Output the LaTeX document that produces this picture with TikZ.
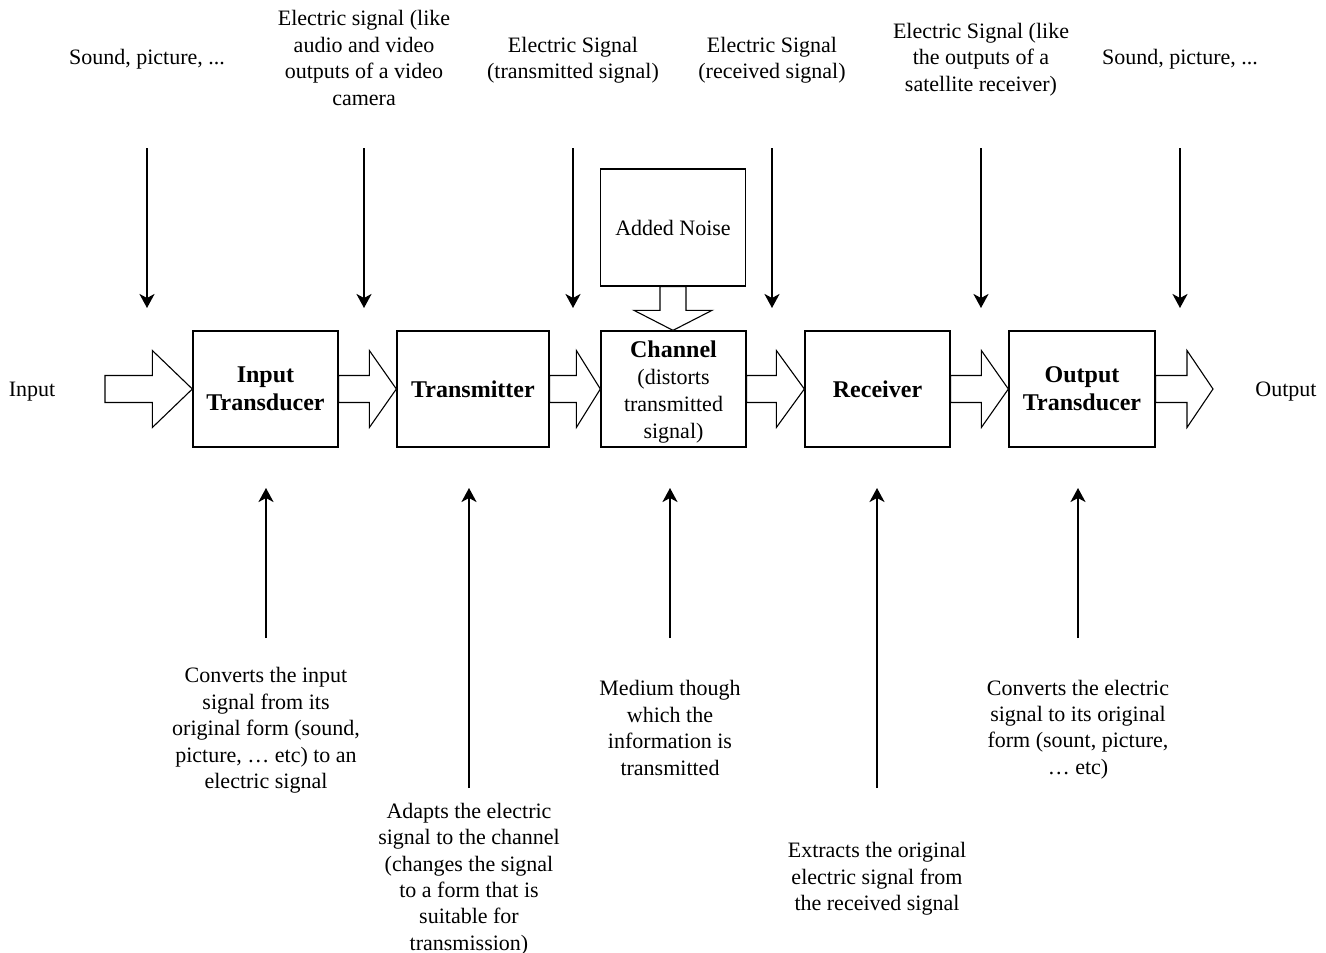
\documentclass[tikz,border=0pt]{standalone}
\usepackage{fontspec}
\setmainfont{Liberation Serif}
\usetikzlibrary{arrows.meta,calc}
\tikzset{
  box/.style={draw, line width=1.3pt, minimum width=145pt, minimum height=116pt, inner sep=0pt, align=center, font=\fontsize{24}{28}\selectfont\bfseries},
  lbl/.style={align=center, inner sep=0pt, font=\fontsize{22}{26.4}\selectfont},
  thin/.style={line width=2.2pt, -{Stealth[length=14pt,width=15pt,inset=4pt]}},
  blk/.style={draw, line width=1.1pt, fill=white, line join=miter}
}
\newcommand\blkarrow[3]{%
  \path[blk] let \p1=(#1), \p2=(#2) in
    (\x1,\y1+13.5pt) -- (\x2-#3,\y1+13.5pt) -- (\x2-#3,\y1+38.5pt) -- (\x2,\y1)
    -- (\x2-#3,\y1-38.5pt) -- (\x2-#3,\y1-13.5pt) -- (\x1,\y1-13.5pt) -- cycle;}
\begin{document}
\begin{tikzpicture}[x=1pt,y=-1pt]
\useasboundingbox (0,0) rectangle (1326,953);
% main boxes
\node[box] (it) at (265.5,389) {Input\\Transducer};
\node[box, minimum width=152pt] (tx) at (473,389) {Transmitter};
\node[box, font=\fontsize{22}{27}\selectfont] (ch) at (673.5,389) {};
\node[align=center, inner sep=0pt, font=\fontsize{22}{27}\selectfont] (chtext) at (673.5,392) {{\fontsize{24}{27}\selectfont\bfseries Channel}\\(distorts\\transmitted\\signal)};
\node[box] (rx) at (877.5,389) {Receiver};
\node[box, minimum width=146pt] (ot) at (1082,389) {Output\\Transducer};
\node[box, minimum height=117pt, font=\fontsize{22}{26.4}\selectfont] (noise) at (673,227.5) {Added Noise};
% side labels
\node[lbl] (inp) at (32,392) {Input};
\node[lbl] (outp) at (1286,392) {Output};
\coordinate (inA) at (105,389);
\coordinate (outA) at (1213,389);
% block arrows
\blkarrow{inA}{it.west}{40pt}
\blkarrow{it.east}{tx.west}{27pt}
\blkarrow{tx.east}{ch.west}{24pt}
\blkarrow{ch.east}{rx.west}{28pt}
\blkarrow{rx.east}{ot.west}{27pt}
\blkarrow{ot.east}{outA}{26pt}
\path[blk] let \p1=(noise.south), \p2=(ch.north) in
  (\x1-13pt,\y1) -- (\x1-13pt,\y2+20pt) -- (\x1-39pt,\y2+20pt) -- (\x1,\y2)
  -- (\x1+39pt,\y2+20pt) -- (\x1+13pt,\y2+20pt) -- (\x1+13pt,\y1) -- cycle;
% top labels
\node[lbl] (t1) at (147,59.5) {Sound, picture, ...};
\node[lbl] (t2) at (364,58) {Electric signal (like\\audio and video\\outputs of a video\\camera};
\node[lbl] (t3) at (573,60) {Electric Signal\\(transmitted signal)};
\node[lbl] (t4) at (772,60) {Electric Signal\\(received signal)};
\node[lbl] (t5) at (981,59.5) {Electric Signal (like\\the outputs of a\\satellite receiver)};
\node[lbl] (t6) at (1180,59.5) {Sound, picture, ...};
% top arrows
\foreach \n/\x in {1/147,2/364,3/573,4/772,5/981,6/1180}{
  \coordinate (ts\n) at (\x,148);
  \coordinate (te\n) at (\x,308);
  \draw[thin] (ts\n) -- (te\n);
}
% bottom labels
\node[lbl] (b1) at (266,730.5) {Converts the input\\signal from its\\original form (sound,\\picture, … etc) to an\\electric signal};
\node[lbl] (b2) at (469,879) {Adapts the electric\\signal to the channel\\(changes the signal\\to a form that is\\suitable for\\transmission)};
\node[lbl] (b3) at (670,728) {Medium though\\which the\\information is\\transmitted};
\node[lbl] (b4) at (877,879) {Extracts the original\\electric signal from\\the received signal};
\node[lbl] (b5) at (1078,729.5) {Converts the electric\\signal to its original\\form (sount, picture,\\… etc)};
% bottom arrows
\foreach \n/\x/\y in {1/266/638,2/469/788,3/670/638,4/877/788,5/1078/638}{
  \coordinate (bs\n) at (\x,\y);
  \coordinate (be\n) at (\x,488);
  \draw[thin] (bs\n) -- (be\n);
}
\end{tikzpicture}
\end{document}
